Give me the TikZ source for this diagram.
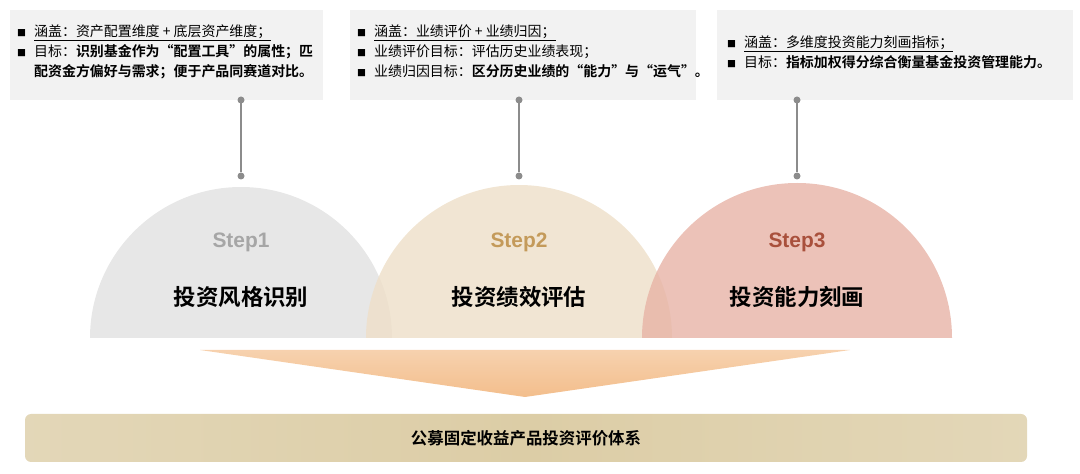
\documentclass[tikz,border=0pt]{standalone}
\usepackage{fontspec}
\setmainfont{Noto Sans CJK SC}
\newfontfamily\cjkb{Noto Sans CJK SC Bold}
\newfontfamily\arialb{Liberation Sans}
\usetikzlibrary{shadings}
\definecolor{boxg}{HTML}{F2F2F2}
\definecolor{stemg}{HTML}{8C8C8C}
\definecolor{c1}{HTML}{E3E3E3}
\definecolor{c2}{HTML}{EEDFC8}
\definecolor{c3}{HTML}{E7B3A6}
\definecolor{s1}{HTML}{A6A6A6}
\definecolor{s2}{HTML}{C49A5A}
\definecolor{s3}{HTML}{A9503C}
\definecolor{tri}{HTML}{F3BE8C}
\definecolor{barc}{HTML}{DCCDA6}
\newcommand{\bul}{{\fontsize{9}{9}\selectfont■}\hspace{8bp}}
\newcommand{\bulsp}{\hphantom{\fontsize{9}{9}\selectfont■}\hspace{8bp}}
\begin{document}
\begin{tikzpicture}[x=1bp,y=-1bp,
  infobox/.style={fill=boxg,draw=none},
  infotext/.style={anchor=north west,align=left,font=\fontsize{14}{20}\selectfont,inner sep=0pt},
  stem/.style={draw=stemg,line width=1.6bp},
  dotc/.style={circle,fill=stemg,inner sep=0pt,minimum size=7bp},
  steplbl/.style={font=\arialb\fontsize{21}{23}\selectfont\bfseries},
  titl/.style={font=\cjkb\fontsize{22.5}{24}\selectfont}]
\useasboundingbox (0,0) rectangle (1080,474);
% boxes
\fill[infobox] (10,10) rectangle (323,100);
\fill[infobox] (350,10) rectangle (696,100);
\fill[infobox] (717,10) rectangle (1073,100);
\node[infotext] (t1) at (17,25) {\bul\underline{涵盖：资产配置维度 + 底层资产维度；}\\\bul 目标：{\cjkb 识别基金作为“配置工具”的属性；匹}\\\bulsp{\cjkb 配资金方偏好与需求；便于产品同赛道对比。}};
\node[infotext] (t2) at (357,25) {\bul\underline{涵盖：业绩评价 + 业绩归因；}\\\bul 业绩评价目标：评估历史业绩表现；\\\bul 业绩归因目标：{\cjkb 区分历史业绩的“能力”与“运气”。}};
\node[infotext] (t3) at (727,36) {\bul\underline{涵盖：多维度投资能力刻画指标；}\\\bul 目标：{\cjkb 指标加权得分综合衡量基金投资管理能力。}};
% semicircles
\fill[c1,opacity=0.85] (90,338) arc[start angle=180,end angle=0,x radius=151,y radius=-151] -- cycle;
\fill[c2,opacity=0.8] (366,338) arc[start angle=180,end angle=0,x radius=153,y radius=-153] -- cycle;
\fill[c3,opacity=0.8] (642,338) arc[start angle=180,end angle=0,x radius=155,y radius=-155] -- cycle;
% stems
\coordinate (b1) at (241,100); \node[dotc] (d1) at (241,176) {};
\coordinate (b2) at (519,100); \node[dotc] (d2) at (519,176) {};
\coordinate (b3) at (797,100); \node[dotc] (d3) at (797,176) {};
\draw[stem] (b1) -- (d1); \draw[stem] (b2) -- (d2); \draw[stem] (b3) -- (d3);
\node[dotc] at (241,100) {}; \node[dotc] at (519,100) {}; \node[dotc] at (797,100) {};
% labels
\node[steplbl,text=s1] (st1) at (241,242) {Step1};
\node[steplbl,text=s2] (st2) at (519,242) {Step2};
\node[steplbl,text=s3] (st3) at (797,242) {Step3};
\node[titl] (n1) at (241,297) {投资风格识别};
\node[titl] (n2) at (519,297) {投资绩效评估};
\node[titl] (n3) at (797,297) {投资能力刻画};
% triangle
\shade[top color=tri!70!white,bottom color=tri] (200,350) -- (850,350) -- (525,397) -- cycle;
% bar
\shade[left color=barc!80!white,right color=barc!80!white,middle color=barc,rounded corners=6bp] (25,414) rectangle (1027,462);
\node[font=\cjkb\fontsize{16.5}{18}\selectfont] (bar) at (526,438) {公募固定收益产品投资评价体系};
\end{tikzpicture}
\end{document}
